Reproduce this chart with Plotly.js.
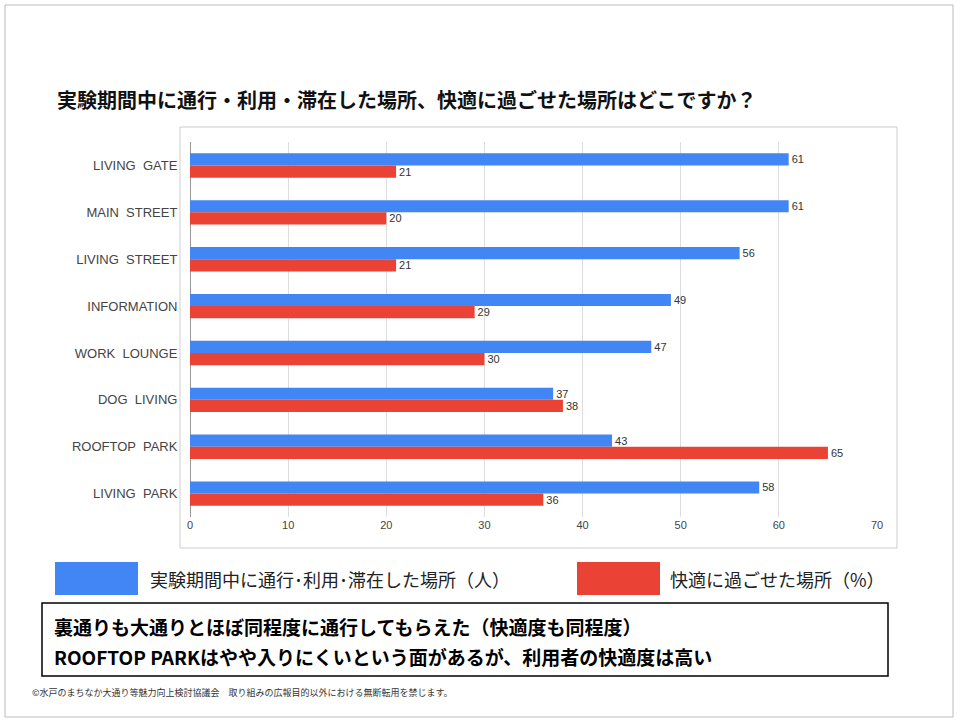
<!DOCTYPE html>
<html><head><meta charset="utf-8">
<script src="https://cdn.plot.ly/plotly-3.0.1.min.js"></script>
<style>body{margin:0;background:#fff}</style>
</head><body>
<div id="chart" style="width:959px;height:723px"></div>
<script>
var places = ['LIVING  GATE', 'MAIN  STREET', 'LIVING  STREET', 'INFORMATION', 'WORK  LOUNGE', 'DOG  LIVING', 'ROOFTOP  PARK', 'LIVING  PARK'];
var visited = [61, 61, 56, 49, 47, 37, 43, 58];
var comfort = [21, 20, 21, 29, 30, 38, 65, 36];
var xTicks = [0, 10, 20, 30, 40, 50, 60, 70];
var nameVisited = '実験期間中に通行･利用･滞在した場所（人）';
var nameComfort = '快適に過ごせた場所（%）';

var jp = '"Noto Sans CJK JP", "Noto Sans", sans-serif';
var W = 959, H = 723;
function px(x) { return x / W; }
function py(y) { return 1 - y / H; }

var data = [
    {type: 'bar', orientation: 'h', y: places, x: visited, name: nameVisited,
     marker: {color: '#4285f4'}, text: visited, textposition: 'outside', constraintext: 'none',
     textfont: {size: 11, color: '#333', family: 'Liberation Sans, Arial'}, cliponaxis: false},
    {type: 'bar', orientation: 'h', y: places, x: comfort, name: nameComfort,
     marker: {color: '#ea4335'}, text: comfort, textposition: 'outside', constraintext: 'none',
     textfont: {size: 11, color: '#333', family: 'Liberation Sans, Arial'}, cliponaxis: false}
];

var layout = {
    width: W, height: H,
    margin: {l: 0, r: 0, t: 0, b: 0},
    paper_bgcolor: '#fff', plot_bgcolor: '#fff',
    showlegend: false,
    barmode: 'group', bargap: 0.48, bargroupgap: 0,
    font: {family: jp, color: '#444'},
    uniformtext: {mode: false},
    xaxis: {domain: [px(190), px(877)], range: [0, 70], tickvals: xTicks,
            showgrid: true, gridcolor: '#ddd', zeroline: true, zerolinecolor: '#999',
            tickfont: {size: 11, color: '#444', family: 'Liberation Sans, Arial'}, anchor: 'y', ticklen: 0},
    yaxis: {domain: [py(517), py(142)], autorange: 'reversed', showgrid: false,
            tickfont: {size: 13, color: '#444', family: 'Liberation Sans, Arial'}, ticks: 'outside',
            ticklen: 9, tickcolor: 'rgba(0,0,0,0)'},
    shapes: [
        {type: 'rect', xref: 'paper', yref: 'paper', x0: px(5), x1: px(953), y0: py(5), y1: py(717),
         line: {color: '#bbb', width: 1}},
        {type: 'rect', xref: 'paper', yref: 'paper', x0: px(180), x1: px(897), y0: py(127), y1: py(548),
         line: {color: '#ccc', width: 1}},
        {type: 'rect', xref: 'paper', yref: 'paper', x0: px(55), x1: px(138), y0: py(562), y1: py(595),
         fillcolor: '#4285f4', line: {width: 0}},
        {type: 'rect', xref: 'paper', yref: 'paper', x0: px(577), x1: px(660), y0: py(562), y1: py(595),
         fillcolor: '#ea4335', line: {width: 0}},
        {type: 'rect', xref: 'paper', yref: 'paper', x0: px(42), x1: px(888), y0: py(603), y1: py(676),
         line: {color: '#000', width: 1.5}}
    ],
    annotations: [
        {xref: 'paper', yref: 'paper', x: px(55), y: py(100), xanchor: 'left', yanchor: 'middle',
         showarrow: false, text: '<b>実験期間中に通行・利用・滞在した場所、快適に過ごせた場所はどこですか？</b>',
         font: {size: 20, color: '#111'}},
        {xref: 'paper', yref: 'paper', x: px(148), y: py(579), xanchor: 'left', yanchor: 'middle',
         showarrow: false, text: nameVisited, font: {size: 18, color: '#222'}},
        {xref: 'paper', yref: 'paper', x: px(668), y: py(579), xanchor: 'left', yanchor: 'middle',
         showarrow: false, text: nameComfort, font: {size: 18, color: '#222'}},
        {xref: 'paper', yref: 'paper', x: px(52), y: py(626), xanchor: 'left', yanchor: 'middle',
         showarrow: false, text: '<b>裏通りも大通りとほぼ同程度に通行してもらえた（快適度も同程度）</b>',
         font: {size: 19, color: '#000'}},
        {xref: 'paper', yref: 'paper', x: px(52), y: py(656), xanchor: 'left', yanchor: 'middle',
         showarrow: false, text: '<b>ROOFTOP PARKはやや入りにくいという面があるが、利用者の快適度は高い</b>',
         font: {size: 19, color: '#000'}},
        {xref: 'paper', yref: 'paper', x: px(30), y: py(692), xanchor: 'left', yanchor: 'middle',
         showarrow: false, text: '©水戸のまちなか大通り等魅力向上検討協議会　取り組みの広報目的以外における無断転用を禁じます。',
         font: {size: 9, color: '#333'}}
    ]
};

Plotly.newPlot('chart', data, layout, {displayModeBar: false});
</script>
</body></html>
